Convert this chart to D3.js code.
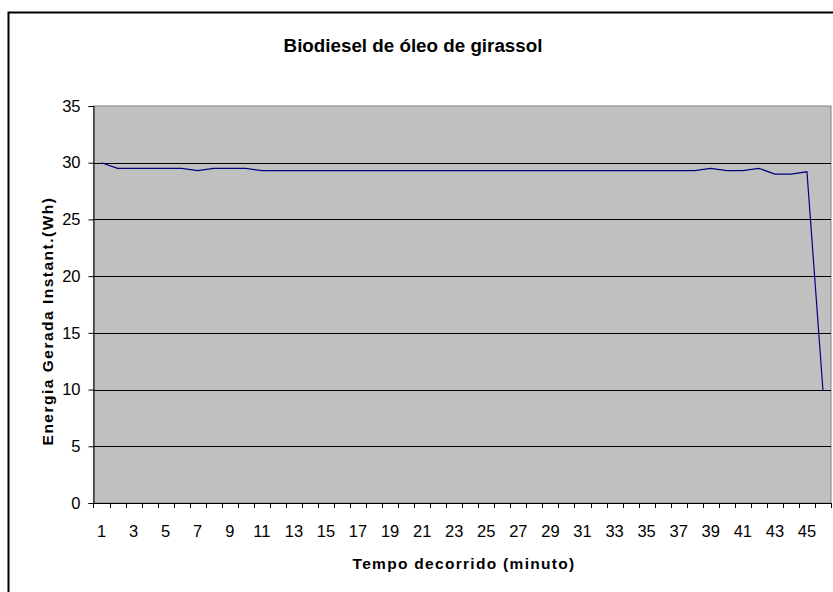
<!DOCTYPE html>
<html>
<head>
<meta charset="utf-8">
<script src="https://cdn.jsdelivr.net/npm/d3@7"></script>
<style>
  body { margin: 0; background: #fff; }
  svg { display: block; font-family: Arial, "Liberation Sans", sans-serif; }
</style>
</head>
<body>
<svg id="chart" width="833" height="592"></svg>
<script>
// minutes 1..46
const minutes = d3.range(1, 47)
// energia gerada instantanea (Wh)
const energy = [
  30.0, 29.5, 29.5, 29.5, 29.5, 29.5, 29.3, 29.5, 29.5, 29.5,
  29.3, 29.3, 29.3, 29.3, 29.3, 29.3, 29.3, 29.3, 29.3, 29.3,
  29.3, 29.3, 29.3, 29.3, 29.3, 29.3, 29.3, 29.3, 29.3, 29.3,
  29.3, 29.3, 29.3, 29.3, 29.3, 29.3, 29.3, 29.3, 29.5, 29.3,
  29.3, 29.5, 29.0, 29.0, 29.2, 9.9
]
const yTicks = [0, 5, 10, 15, 20, 25, 30, 35]

const title = 'Biodiesel de óleo de girassol'
const xTitle = 'Tempo decorrido (minuto)'
const yTitle = 'Energia Gerada Instant.(Wh)'

const svg = d3.select('#chart')
const plot = { left: 93.5, top: 106, right: 831, bottom: 503 }
const tickFont = 16.5

// outer chart frame (right and bottom edges fall outside the window)
svg.append('rect')
  .attr('x', 8.5).attr('y', 12.5)
  .attr('width', 900).attr('height', 700)
  .attr('fill', '#fff')
  .attr('stroke', '#000')
  .attr('stroke-width', 2)

const x = d3.scaleBand()
  .domain(minutes)
  .range([plot.left, plot.right])

const y = d3.scaleLinear()
  .domain([0, 35])
  .range([plot.bottom, plot.top])

// plot area
svg.append('rect')
  .attr('x', plot.left).attr('y', plot.top)
  .attr('width', plot.right - plot.left)
  .attr('height', plot.bottom - plot.top)
  .attr('fill', '#c0c0c0')
  .attr('stroke', '#808080')
  .attr('stroke-width', 1)

// gridlines
svg.append('g')
  .selectAll('line')
  .data(yTicks.filter(d => d > 0 && d < 35))
  .join('line')
  .attr('x1', plot.left).attr('x2', plot.right)
  .attr('y1', d => Math.round(y(d)) + 0.5)
  .attr('y2', d => Math.round(y(d)) + 0.5)
  .attr('stroke', '#000')

// y axis
const yAxis = svg.append('g')
  .attr('transform', `translate(${plot.left},0)`)
  .call(d3.axisLeft(y).tickValues(yTicks).tickSize(5).tickPadding(8))
yAxis.select('.domain').attr('stroke', '#000')
yAxis.selectAll('text')
  .attr('font-size', tickFont)
  .attr('font-family', 'Arial, "Liberation Sans", sans-serif')
  .attr('fill', '#000')

// x axis: ticks at band boundaries, labels on odd minutes
const xAxis = svg.append('g')
  .attr('transform', `translate(0,${plot.bottom})`)
xAxis.append('line')
  .attr('x1', plot.left).attr('x2', plot.right)
  .attr('y1', 0.5).attr('y2', 0.5)
  .attr('stroke', '#000')
xAxis.selectAll('line.tick')
  .data(minutes.concat([47]))
  .join('line')
  .attr('class', 'tick')
  .attr('x1', d => Math.round(d === 47 ? plot.right : x(d)) + 0.5)
  .attr('x2', d => Math.round(d === 47 ? plot.right : x(d)) + 0.5)
  .attr('y1', 0).attr('y2', 5)
  .attr('stroke', '#000')
xAxis.selectAll('text')
  .data(minutes.filter(d => d % 2 === 1))
  .join('text')
  .attr('x', d => x(d) + x.bandwidth() / 2)
  .attr('y', 34)
  .attr('text-anchor', 'middle')
  .attr('font-size', tickFont)
  .text(d => d)

// the series
const line = d3.line()
  .x((d, i) => x(minutes[i]) + x.bandwidth() / 2)
  .y(d => y(d))

svg.append('path')
  .datum(energy)
  .attr('d', line)
  .attr('fill', 'none')
  .attr('stroke', '#000080')
  .attr('stroke-width', 1.2)

// titles
svg.append('text')
  .attr('x', 413).attr('y', 52)
  .attr('text-anchor', 'middle')
  .attr('font-size', 18.8)
  .attr('font-weight', 'bold')
  .text(title)

svg.append('text')
  .attr('x', 464).attr('y', 569)
  .attr('text-anchor', 'middle')
  .attr('font-size', 15.5)
  .attr('font-weight', 'bold')
  .attr('letter-spacing', 1.3)
  .text(xTitle)

svg.append('text')
  .attr('transform', 'translate(53,321) rotate(-90)')
  .attr('text-anchor', 'middle')
  .attr('font-size', 15.5)
  .attr('font-weight', 'bold')
  .attr('letter-spacing', 1.5)
  .text(yTitle)
</script>
</body>
</html>
